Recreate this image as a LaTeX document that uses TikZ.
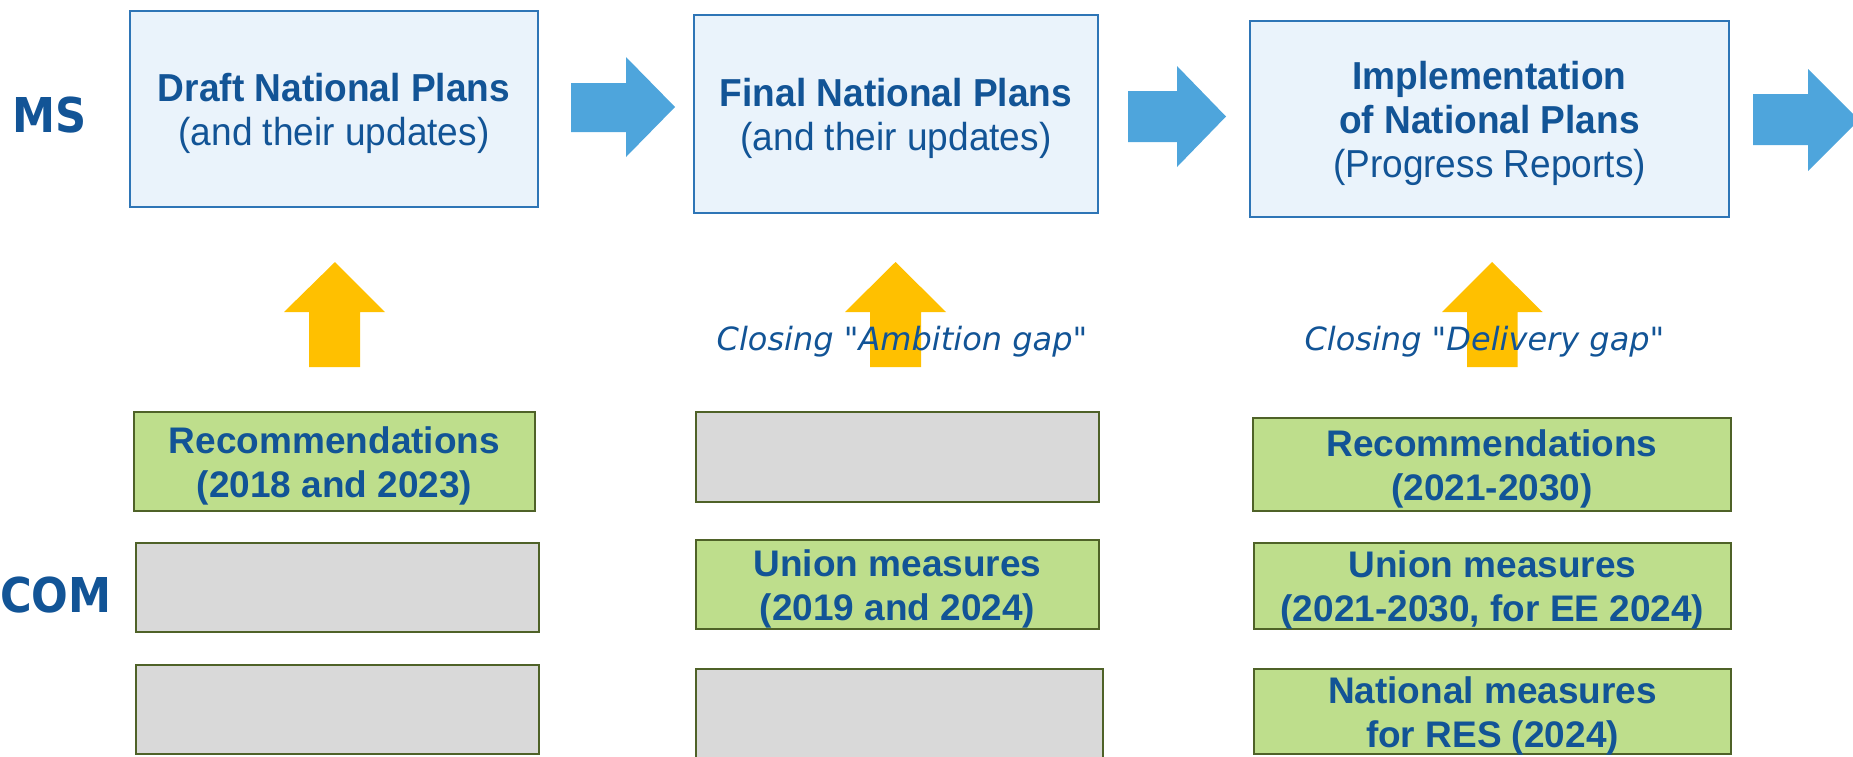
\documentclass[tikz,border=0pt]{standalone}
\usepackage{fontspec}
\setmainfont{Liberation Sans}
\newfontfamily\topfont{Liberation Sans}[FakeStretch=0.95]
\newfontfamily\grfont{Liberation Sans}
\newfontfamily\labfont{DejaVu Sans}[FakeStretch=0.9]
\newfontfamily\gapfont{DejaVu Sans}
\definecolor{txtblue}{RGB}{18,84,150}
\definecolor{arrblue}{RGB}{78,165,220}
\definecolor{arryel}{RGB}{255,192,0}
\definecolor{topfill}{RGB}{234,243,251}
\definecolor{topline}{RGB}{46,117,182}
\definecolor{grfill}{RGB}{190,222,140}
\definecolor{grline}{RGB}{79,98,40}
\definecolor{gyfill}{RGB}{217,217,217}
\begin{document}
\begin{tikzpicture}[x=1pt,y=-1pt,
  topbox/.style={draw=topline,fill=topfill,line width=2pt,inner sep=0pt},
  greenbox/.style={draw=grline,fill=grfill,line width=2pt,inner sep=0pt},
  graybox/.style={draw=grline,fill=gyfill,line width=2pt,inner sep=0pt},
  toptext/.style={text=txtblue,align=center,inner sep=0pt,font=\topfont\fontsize{39}{44}\selectfont},
  grtext/.style={text=txtblue,align=center,inner sep=0pt,font=\grfont\bfseries\fontsize{37}{44}\selectfont},
  sidelab/.style={text=txtblue,anchor=base,inner sep=0pt,font=\labfont\bfseries\fontsize{48}{52}\selectfont},
  gaplab/.style={text=txtblue,anchor=base,inner sep=0pt,font=\gapfont\itshape\fontsize{32}{36}\selectfont},
  blockarrow/.style={fill=arrblue},
  uparrow/.style={fill=arryel}]
\useasboundingbox (0,0) rectangle (1853,756);
\clip (0,0) rectangle (1853,756);

% side labels
\node[sidelab] (ms) at (50,132) {MS};
\node[sidelab] (com) at (56,612) {COM};

% top boxes
\node[topbox,minimum width=408pt,minimum height=196pt] (draft) at (334,109) {};
\node[toptext] (drafttxt) at ([yshift=-4pt]draft.center) {\bfseries Draft National Plans\\(and their updates)};
\node[topbox,minimum width=404pt,minimum height=198pt] (final) at (896,114) {};
\node[toptext] (finaltxt) at ([yshift=-4pt]final.center) {\bfseries Final National Plans\\(and their updates)};
\node[topbox,minimum width=479pt,minimum height=196pt] (impl) at (1489.5,119) {};
\node[toptext] (impltxt) at ([yshift=-4pt]impl.center) {\bfseries Implementation\\\bfseries of National Plans\\(Progress Reports)};

% blue block arrows
\fill[blockarrow] (571,83) -- (626,83) -- (626,57) -- (675,107) -- (626,157) -- (626,132) -- (571,132) -- cycle;
\fill[blockarrow] (1128,91) -- (1177,91) -- (1177,66) -- (1226,116.5) -- (1177,167) -- (1177,142) -- (1128,142) -- cycle;
\fill[blockarrow] (1753,94) -- (1808,94) -- (1808,69) -- (1859,120) -- (1808,171) -- (1808,145) -- (1753,145) -- cycle;

% yellow up arrows
\fill[uparrow] (309,367) -- (309,312) -- (284,312) -- (335,262) -- (385,312) -- (360,312) -- (360,367) -- cycle;
\fill[uparrow] (870,367) -- (870,312) -- (845,312) -- (895.5,262) -- (946,312) -- (921,312) -- (921,367) -- cycle;
\fill[uparrow] (1467,367) -- (1467,312) -- (1442,312) -- (1492,262) -- (1542.5,312) -- (1517.5,312) -- (1517.5,367) -- cycle;

% gap labels
\node[gaplab] (ambgap) at (902,350) {Closing "Ambition gap"};
\node[gaplab] (delgap) at (1484.5,350) {Closing "Delivery gap"};

% row 1
\node[greenbox,minimum width=401pt,minimum height=99pt] (rec1) at (334.5,461.5) {};
\node[grtext] (rec1txt) at ([yshift=-4pt]rec1.center) {Recommendations\\(2018 and 2023)};
\node[graybox,minimum width=403pt,minimum height=90pt] (gray12) at (897.5,457) {};
\node[greenbox,minimum width=478pt,minimum height=93pt] (rec3) at (1492,464.5) {};
\node[grtext] (rec3txt) at ([yshift=-4pt]rec3.center) {Recommendations\\(2021-2030)};

% row 2
\node[graybox,minimum width=403pt,minimum height=89pt] (gray21) at (337.5,587.5) {};
\node[greenbox,minimum width=403pt,minimum height=89pt] (union2) at (897.5,584.5) {};
\node[grtext] (union2txt) at ([yshift=-4pt]union2.center) {Union measures\\(2019 and 2024)};
\node[greenbox,minimum width=477pt,minimum height=86pt] (union3) at (1492.5,586) {};
\node[grtext] (union3txt) at ([yshift=-4pt]union3.center) {Union measures\\(2021-2030, for EE 2024)};

% row 3
\node[graybox,minimum width=403pt,minimum height=89pt] (gray31) at (337.5,709.5) {};
\node[graybox,minimum width=407pt,minimum height=96pt] (gray32) at (899.5,717) {};
\node[greenbox,minimum width=477pt,minimum height=85pt] (nat3) at (1492.5,711.5) {};
\node[grtext] (nat3txt) at ([yshift=-4pt]nat3.center) {National measures\\for RES (2024)};
\end{tikzpicture}
\end{document}
